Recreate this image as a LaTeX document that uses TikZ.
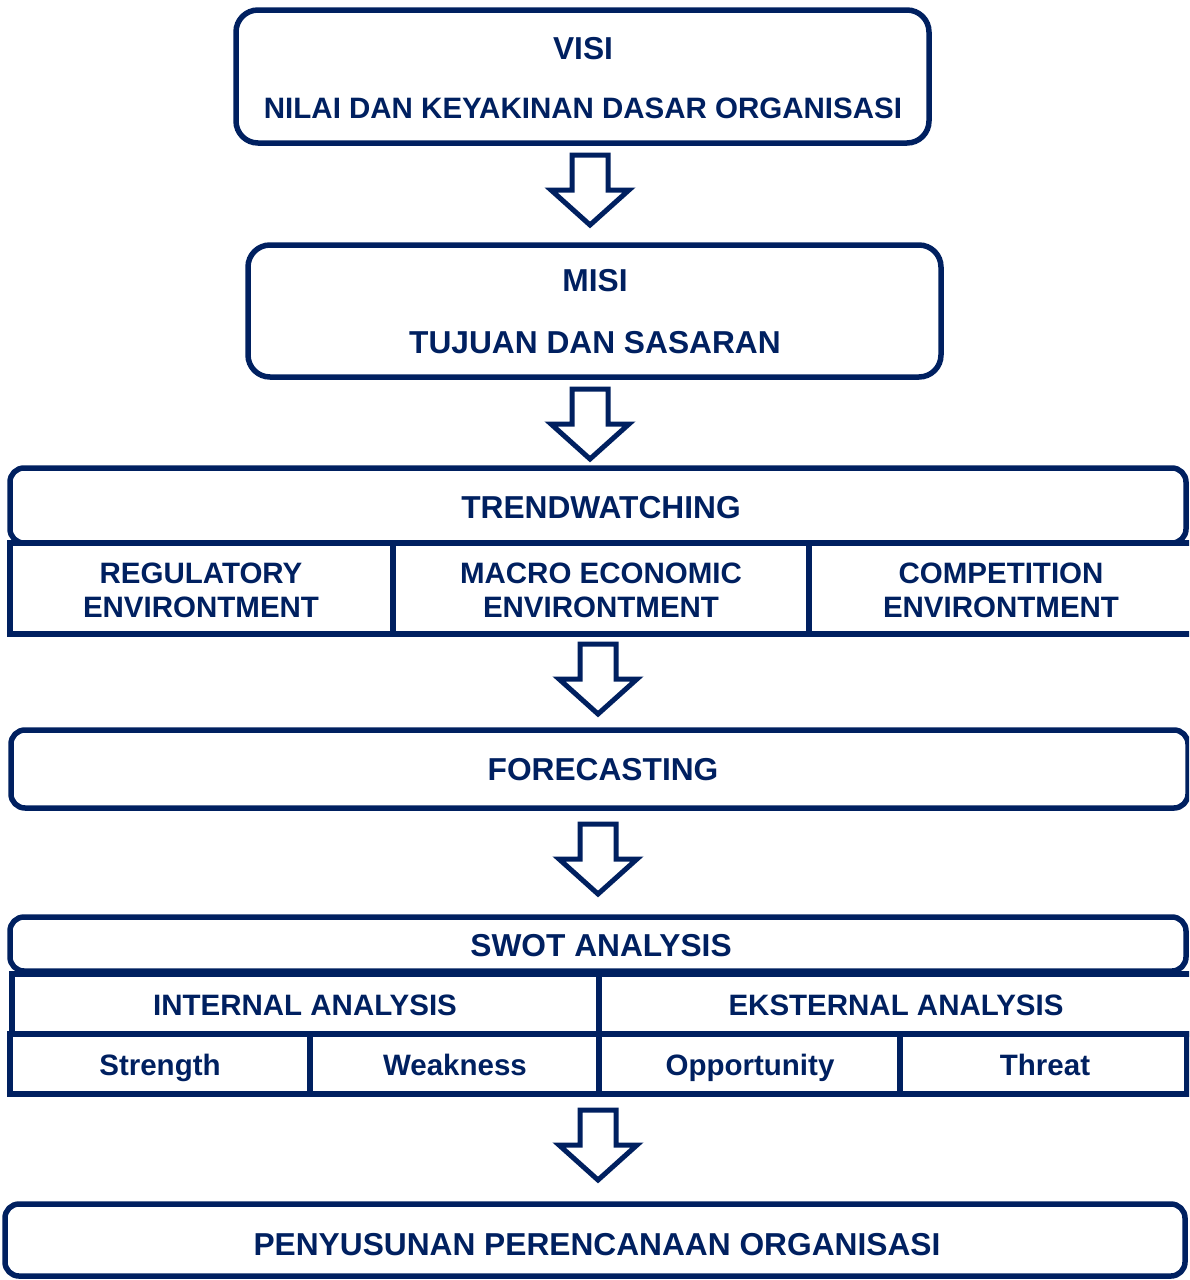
\documentclass[tikz,border=0pt]{standalone}
\usepackage{fontspec}
\setmainfont{Liberation Sans}
\usetikzlibrary{fit}
\definecolor{navy}{HTML}{002060}
\begin{document}
\begin{tikzpicture}[x=1pt,y=-1pt,
  box/.style={draw=navy, line width=5.5pt, inner sep=0pt},
  rbox/.style={box, rounded corners=14pt},
  bigbox/.style={box, rounded corners=22pt},
  lbl/.style={text=navy, font=\bfseries\fontsize{29.5}{34}\selectfont, anchor=base, inner sep=0pt},
  head/.style={text=navy, font=\bfseries\fontsize{31.7}{36}\selectfont, anchor=base, inner sep=0pt},
  lbltwo/.style={text=navy, font=\bfseries\fontsize{29.5}{34}\selectfont, align=center, anchor=center, inner sep=0pt},
  blockarrow/.pic={\draw[navy, line width=5pt, miter limit=10, fill=white]
      (-18,0) -- (-18,35) -- (-39,35) -- (0,70) -- (39,35) -- (18,35) -- (18,0) -- cycle;}]
\useasboundingbox (0,0) rectangle (1189,1280);
\clip (0,0) rectangle (1189,1280);

% vision and mission
\node[bigbox, fit={(236,10) (929,143)}] (visi) {};
\node[head] (visiA) at (583,59.4) {VISI};
\node[lbl] (visiB) at (583,118.6) {NILAI DAN KEYAKINAN DASAR ORGANISASI};

\node[bigbox, fit={(248,245) (941,377)}] (misi) {};
\node[head] (misiA) at (595,291.4) {MISI};
\node[head] (misiB) at (595,353.4) {TUJUAN DAN SASARAN};

% trendwatching
\node[rbox, fit={(10,468) (1186,543)}] (trend) {};
\node[head] (trendT) at (601,518.4) {TRENDWATCHING};
\node[box, fit={(10,543) (393,634)}] (reg) {};
\node[box, fit={(393,543) (809,634)}] (macro) {};
\node[box, fit={(809,543) (1200,634)}] (comp) {};
\node[lbltwo] (regT) at (201,590) {REGULATORY\\ENVIRONTMENT};
\node[lbltwo] (macroT) at (601,590) {MACRO ECONOMIC\\ENVIRONTMENT};
\node[lbltwo] (compT) at (1001,590) {COMPETITION\\ENVIRONTMENT};

% forecasting
\node[rbox, fit={(11,730) (1188,808)}] (fore) {};
\node[head] (foreT) at (603,780.4) {FORECASTING};

% swot
\node[rbox, fit={(10,917) (1186,971)}] (swot) {};
\node[head] (swotT) at (601,956.4) {SWOT ANALYSIS};
\node[box, fit={(12,974) (599,1034)}] (intl) {};
\node[box, fit={(599,974) (1200,1034)}] (extl) {};
\node[lbl] (intlT) at (305,1015.6) {INTERNAL ANALYSIS};
\node[lbl] (extlT) at (896,1015.6) {EKSTERNAL ANALYSIS};
\node[box, fit={(10,1034) (310,1094)}] (str) {};
\node[box, fit={(310,1034) (599,1094)}] (weak) {};
\node[box, fit={(599,1034) (900,1094)}] (opp) {};
\node[box, fit={(900,1034) (1187,1094)}] (thr) {};
\node[lbl] (strT) at (160,1075.6) {Strength};
\node[lbl] (weakT) at (455,1075.6) {Weakness};
\node[lbl] (oppT) at (750,1075.6) {Opportunity};
\node[lbl] (thrT) at (1045,1075.6) {Threat};

% planning
\node[rbox, fit={(5,1204) (1185,1276)}] (plan) {};
\node[head] (planT) at (597,1255.4) {PENYUSUNAN PERENCANAAN ORGANISASI};

% block arrows between stages
\pic (arrA) at (590,155) {blockarrow};
\pic (arrB) at (590,389) {blockarrow};
\pic (arrC) at (598,644) {blockarrow};
\pic (arrD) at (598,824) {blockarrow};
\pic (arrE) at (598,1110) {blockarrow};
\end{tikzpicture}
\end{document}
